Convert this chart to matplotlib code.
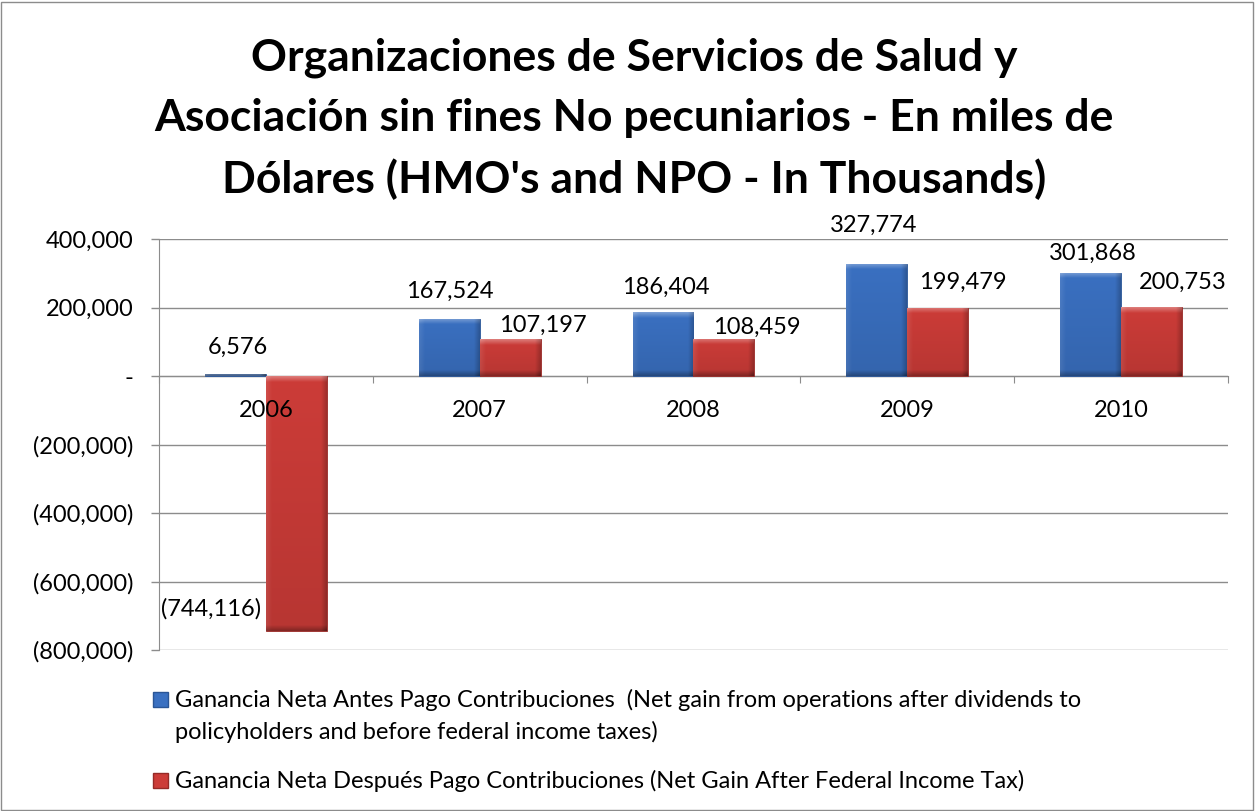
import numpy as np
import matplotlib.pyplot as plt
import matplotlib.patches as mpatches
from matplotlib.colors import to_rgb
from matplotlib.ticker import FuncFormatter, FixedLocator

plt.rcParams['font.family'] = ['Lato', 'DejaVu Sans']

# Data
years = ['2006', '2007', '2008', '2009', '2010']
antes = [6576, 167524, 186404, 327774, 301868]
despues = [-744116, 107197, 108459, 199479, 200753]
legend_antes = ("Ganancia Neta Antes Pago Contribuciones  (Net gain from operations after dividends to\n"
                "policyholders and before federal income taxes)")
legend_despues = "Ganancia Neta Después Pago Contribuciones (Net Gain After Federal Income Tax)"
title = ("Organizaciones de Servicios de Salud y\n"
         "Asociación sin fines No pecuniarios - En miles de\n"
         "Dólares (HMO's and NPO - In Thousands)")

blue = '#3a70c1'
red = '#cc3c38'

fig = plt.figure(figsize=(12.56, 8.11), dpi=100)
ax = fig.add_axes([159 / 1256, 0.1985, 1069 / 1256, 0.5068])

x = list(range(len(years)))
w = 0.285
bars_a = ax.bar([i - w / 2 for i in x], antes, w, color=blue, edgecolor='#2a5596', linewidth=0.6, zorder=3)
bars_d = ax.bar([i + w / 2 for i in x], despues, w, color=red, edgecolor='#952a27', linewidth=0.6, zorder=3)

ax.set_xlim(-0.5, len(years) - 0.5)
ax.set_ylim(-800000, 400000)
ax.set_yticks(range(-800000, 400001, 200000))


def bevel(patch, color, t=6.0):
    # Excel-like bevel shading drawn over a bar, clipped to it
    b = patch.get_bbox()
    x0, x1 = sorted([b.x0, b.x1])
    y0, y1 = sorted([b.y0, b.y1])
    p0 = ax.transData.transform((x0, y0))
    p1 = ax.transData.transform((x1, y1))
    wpx = max(int(round(p1[0] - p0[0])), 1)
    hpx = max(int(round(p1[1] - p0[1])), 1)
    yy = np.arange(hpx)[:, None] + 0.5
    xx = np.arange(wpx)[None, :] + 0.5
    top = np.clip(1 - yy / t, 0, 1)
    bot = np.clip(1 - (hpx - yy) / t, 0, 1)
    left = np.clip(1 - xx / t, 0, 1)
    right = np.clip(1 - (wpx - xx) / t, 0, 1)
    light = 0.35 * top + 0.10 * left
    dark = 0.28 * bot + 0.22 * right + 0.10 * (yy / hpx)
    rgb = np.array(to_rgb(color))
    img = rgb + (1 - rgb) * light[..., None]
    img = img * (1 - dark[..., None])
    im = ax.imshow(np.clip(img, 0, 1), extent=(x0, x1, y0, y1), aspect='auto',
                   interpolation='bilinear', zorder=3.5)
    im.set_clip_path(patch)


for p in bars_a:
    bevel(p, blue)
for p in bars_d:
    bevel(p, red)
ax.set_xlim(-0.5, len(years) - 0.5)
ax.set_ylim(-800000, 400000)


def fmt(v, pos=None):
    if v == 0:
        return '-'
    if v < 0:
        return '({:,.0f})'.format(-v)
    return '{:,.0f}'.format(v)


ax.yaxis.set_major_formatter(FuncFormatter(fmt))
ax.tick_params(axis='y', length=5.8, width=1, color='#8c8c8c', pad=12.5, labelsize=17)
ax.grid(axis='y', color='#8c8c8c', linewidth=1, zorder=0)

# category axis at zero
ax.spines['bottom'].set_position(('data', 0))
ax.spines['bottom'].set_color('#8c8c8c')
ax.spines['left'].set_color('#8c8c8c')
ax.spines['top'].set_visible(False)
ax.spines['right'].set_visible(False)
ax.xaxis.set_major_locator(FixedLocator([i - 0.5 for i in range(len(years) + 1)]))
ax.tick_params(axis='x', length=5, color='#8c8c8c', labelbottom=False)

for i, yr in enumerate(years):
    ax.annotate(yr, (i, 0), xytext=(0, -34), textcoords='offset pixels',
                ha='center', va='center', fontsize=17, zorder=5)

# data labels (offsets in pixels, as Excel placed them)
blue_dx = [2, 1, 3, -3, 2]
blue_dy = [26, 27, 25, 38, 19]
for i, v in enumerate(antes):
    ax.annotate(fmt(v), (i - w / 2, v), xytext=(blue_dx[i], blue_dy[i]), textcoords='offset pixels',
                ha='center', va='center', fontsize=17, zorder=5)
red_dx = [-85, 33, 33, 25, 31]
red_dy = [22, 14, 12, 25, 25]
for i, v in enumerate(despues):
    ax.annotate(fmt(v), (i + w / 2, v), xytext=(red_dx[i], red_dy[i]), textcoords='offset pixels',
                ha='center', va='center', fontsize=17, zorder=5)

fig.text(0.505, 1 - 119 / 811, title, ha='center', va='center', fontsize=32, fontweight='bold',
         linespacing=1.6)

# legend drawn by hand
sq = 15 / 1256, 15 / 811
fig.patches.append(mpatches.Rectangle((153 / 1256, 1 - 707 / 811), sq[0], sq[1], facecolor=blue,
                                      edgecolor='#2a5596', transform=fig.transFigure, figure=fig))
fig.patches.append(mpatches.Rectangle((153 / 1256, 1 - 788 / 811), sq[0], sq[1], facecolor=red,
                                      edgecolor='#952a27', transform=fig.transFigure, figure=fig))
fig.text(175 / 1256, 1 - 716 / 811, legend_antes, ha='left', va='center', fontsize=17,
         linespacing=1.5)
fig.text(175 / 1256, 1 - 781 / 811, legend_despues, ha='left', va='center', fontsize=17)

# outer border
fig.patches.append(mpatches.Rectangle((0.001, 0.001), 0.997, 0.997, fill=False,
                                      edgecolor='#8c8c8c', linewidth=1,
                                      transform=fig.transFigure, figure=fig))

fig.savefig('out.png', dpi=100)
